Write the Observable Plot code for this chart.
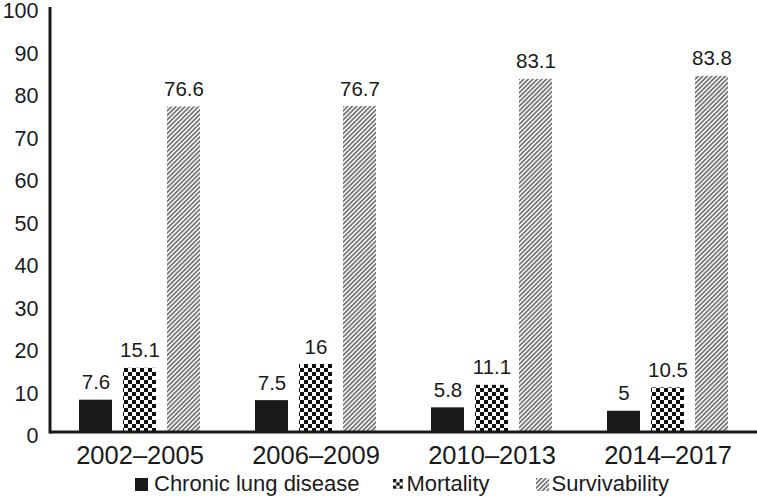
<!DOCTYPE html>
<html>
<head>
<meta charset="utf-8">
<script src="https://cdn.jsdelivr.net/npm/d3@7"></script>
<script src="https://cdn.jsdelivr.net/npm/@observablehq/plot@0.6"></script>
<style>
  html, body { margin: 0; padding: 0; background: #fff; }
  body { width: 757px; height: 497px; overflow: hidden; font-family: "Liberation Sans", Arial, sans-serif; color: #1a1a1a; }
  #legend { display: flex; align-items: center; height: 30px; padding-left: 135px; font-size: 22px; margin-top: 2px; }
  #legend .item { display: flex; align-items: center; }
  #legend .item:nth-child(1) { margin-right: 34px; }
  #legend .item:nth-child(2) { margin-right: 46px; }
  #legend .item:nth-child(1) svg { margin-right: 6px; }
  #legend .item:nth-child(2) svg { margin-right: 3px; }
  #legend .item:nth-child(3) svg { margin-right: 3px; }
</style>
</head>
<body>
<div id="chart"></div>
<div id="legend"></div>
<script>
const groups = ["2002–2005", "2006–2009", "2010–2013", "2014–2017"];
const series = ["Chronic lung disease", "Mortality", "Survivability"];
const chronic = [7.6, 7.5, 5.8, 5];
const mortality = [15.1, 16, 11.1, 10.5];
const survivability = [76.6, 76.7, 83.1, 83.8];
const yTicks = [0, 10, 20, 30, 40, 50, 60, 70, 80, 90, 100];
const fills = ["#1a1a1a", "url(#checker)", "url(#hatch)"];
const swatchSizes = [13, 10, 13];

const valuesBySeries = [chronic, mortality, survivability];
const data = groups.flatMap((g, i) => series.map((s, j) => ({group: g, series: s, value: valuesBySeries[j][i]})));

const chart = Plot.plot({
  width: 757,
  height: 467,
  marginLeft: 50,
  marginRight: 1,
  marginTop: 7,
  marginBottom: 35,
  style: {fontFamily: "'Liberation Sans', Arial, sans-serif", color: "#1a1a1a", background: "#fff", overflow: "visible"},
  fx: {domain: groups, paddingInner: 0.302, paddingOuter: 0.151, label: null},
  x: {domain: series, paddingInner: 0.26, paddingOuter: 0, axis: null},
  y: {domain: [0, 100], label: null},
  color: {domain: series, range: fills},
  marks: [
    Plot.axisY({ticks: yTicks, tickSize: 0, tickPadding: 40, fontSize: 21.5, label: null, dy: 4}),
    Plot.axisFx({anchor: "bottom", tickSize: 0, tickPadding: 13, fontSize: 25.5, label: null}),
    Plot.barY(data, {fx: "group", x: "series", y: "value", fill: "series"}),
    Plot.text(data, {fx: "group", x: "series", y: "value", text: d => String(d.value), lineAnchor: "bottom", dy: -11, fontSize: 20.5, fill: "#1a1a1a"})
  ]
});

document.getElementById("chart").appendChild(chart);

// pattern definitions
const svg = d3.select(chart);
const defs = svg.insert("defs", ":first-child");
const checker = defs.append("pattern").attr("id", "checker").attr("patternUnits", "userSpaceOnUse").attr("width", 8).attr("height", 8);
checker.append("rect").attr("width", 8).attr("height", 8).attr("fill", "#fff");
checker.append("rect").attr("width", 4).attr("height", 4).attr("fill", "#111");
checker.append("rect").attr("x", 4).attr("y", 4).attr("width", 4).attr("height", 4).attr("fill", "#111");
const hatch = defs.append("pattern").attr("id", "hatch").attr("patternUnits", "userSpaceOnUse").attr("width", 3.2).attr("height", 3.2).attr("patternTransform", "rotate(45)");
hatch.append("rect").attr("width", 3.2).attr("height", 3.2).attr("fill", "#f2f2f2");
hatch.append("line").attr("x1", 0.8).attr("x2", 0.8).attr("y1", 0).attr("y2", 3.2).attr("stroke", "#555").attr("stroke-width", 1.3);

// axis lines using the chart's scales
const y = chart.scale("y");
const fx = chart.scale("fx");
const x0 = fx.range[0];
const x1 = fx.range[1];
svg.append("line").attr("x1", x0).attr("x2", x1 + 1).attr("y1", y.apply(0)).attr("y2", y.apply(0)).attr("stroke", "#1a1a1a").attr("stroke-width", 3);
svg.append("line").attr("x1", x0).attr("x2", x0).attr("y1", y.apply(100)).attr("y2", y.apply(0) + 1.5).attr("stroke", "#1a1a1a").attr("stroke-width", 3);

// legend
const legend = d3.select("#legend");
series.forEach((s, i) => {
  const item = legend.append("div").attr("class", "item");
  const size = swatchSizes[i];
  const sw = item.append("svg").attr("width", size).attr("height", size);
  sw.append("rect").attr("width", size).attr("height", size).attr("fill", i === 1 ? "url(#checkerSmall)" : fills[i]);
  item.append("span").text(s);
});
const checkerSmall = defs.append("pattern").attr("id", "checkerSmall").attr("patternUnits", "userSpaceOnUse").attr("width", 6.6).attr("height", 6.6);
checkerSmall.append("rect").attr("width", 6.6).attr("height", 6.6).attr("fill", "#fff");
checkerSmall.append("rect").attr("width", 3.3).attr("height", 3.3).attr("fill", "#111");
checkerSmall.append("rect").attr("x", 3.3).attr("y", 3.3).attr("width", 3.3).attr("height", 3.3).attr("fill", "#111");
</script>
</body>
</html>
